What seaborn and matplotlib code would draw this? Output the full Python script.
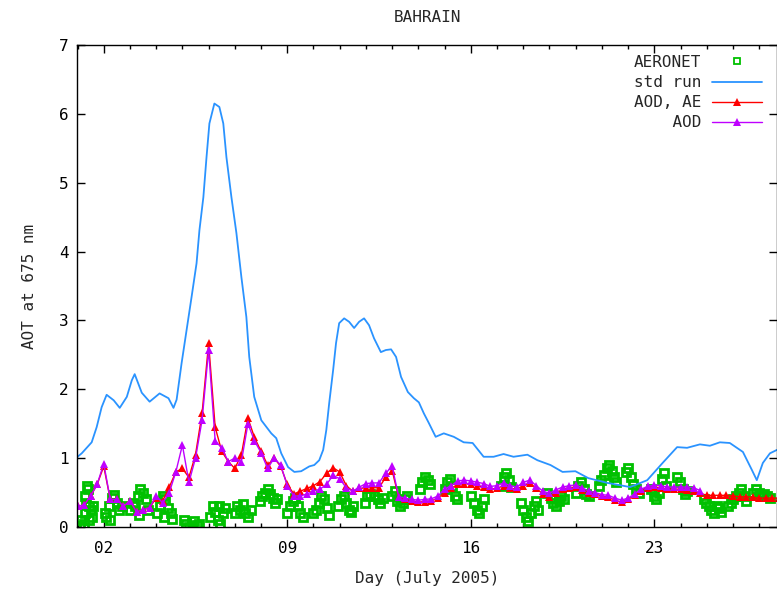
import numpy as np
import seaborn as sns
import matplotlib.pyplot as plt
from matplotlib.ticker import MultipleLocator, FixedLocator

# model runs: one value every 6 h, starting 1 July 00 UTC
model_start = 1.0
model_step = 0.25

aod_ae = [
    0.30, 0.32, 0.45, 0.62,
    0.88, 0.40, 0.40, 0.30,
    0.38, 0.22, 0.25, 0.28,
    0.42, 0.38, 0.58, 0.80,
    0.85, 0.72, 1.05, 1.65,
    2.67, 1.45, 1.10, 0.95,
    0.85, 1.05, 1.58, 1.30,
    1.10, 0.90, 1.00, 0.88,
    0.62, 0.48, 0.52, 0.56,
    0.60, 0.66, 0.78, 0.86,
    0.80, 0.60, 0.52, 0.56,
    0.57, 0.57, 0.57, 0.72,
    0.82, 0.43, 0.40, 0.38,
    0.36, 0.37, 0.38, 0.42,
    0.50, 0.56, 0.62, 0.63,
    0.62, 0.60, 0.58, 0.55,
    0.56, 0.60, 0.56, 0.55,
    0.60, 0.64, 0.56, 0.48,
    0.44, 0.50, 0.55, 0.57,
    0.58, 0.54, 0.50, 0.48,
    0.45, 0.43, 0.39, 0.36,
    0.40, 0.46, 0.53, 0.57,
    0.58, 0.57, 0.55, 0.55,
    0.55, 0.54, 0.52, 0.49,
    0.46, 0.46, 0.46, 0.46,
    0.45, 0.44, 0.44, 0.43,
    0.42, 0.42, 0.42, 0.42,
]

aod_only = [
    0.30, 0.32, 0.45, 0.62,
    0.92, 0.40, 0.40, 0.30,
    0.38, 0.22, 0.25, 0.28,
    0.45, 0.35, 0.50, 0.80,
    1.19, 0.65, 1.00, 1.55,
    2.57, 1.25, 1.15, 0.95,
    1.00, 0.95, 1.50, 1.25,
    1.08, 0.85, 1.00, 0.90,
    0.60, 0.45, 0.45, 0.48,
    0.52, 0.55, 0.62, 0.75,
    0.70, 0.57, 0.52, 0.58,
    0.63, 0.64, 0.64, 0.78,
    0.88, 0.44, 0.42, 0.40,
    0.39, 0.40, 0.41, 0.45,
    0.55, 0.60, 0.67, 0.68,
    0.67, 0.65, 0.63, 0.59,
    0.60, 0.64, 0.60, 0.58,
    0.65, 0.68, 0.60, 0.52,
    0.49, 0.54, 0.58, 0.60,
    0.61, 0.57, 0.52, 0.50,
    0.47, 0.46, 0.42, 0.39,
    0.42, 0.48, 0.55, 0.59,
    0.61, 0.60, 0.58, 0.58,
    0.58, 0.58, 0.57, 0.53,
]

std_day = [1.00, 1.16, 1.54, 1.73, 1.92, 2.11, 2.38, 2.61, 2.88, 3.07,
           3.18, 3.45, 3.75, 4.13, 4.47, 4.66, 4.78, 4.97, 5.16, 5.35,
           5.54, 5.65, 5.80, 5.92, 6.03, 6.22, 6.41, 6.56, 6.68, 6.87,
           7.06, 7.25, 7.44, 7.55, 7.74, 8.01, 8.39, 8.58, 8.77, 9.03,
           9.27, 9.53, 9.84, 10.03, 10.22, 10.37, 10.49, 10.60, 10.75, 10.86,
           10.98, 11.17, 11.36, 11.55, 11.74, 11.93, 12.12, 12.31, 12.57, 12.76,
           12.96, 13.15, 13.34, 13.60, 13.83, 14.02, 14.21, 14.40, 14.66, 14.97,
           15.35, 15.73, 16.07, 16.49, 16.87, 17.25, 17.63, 18.16, 18.54, 19.04,
           19.50, 19.99, 20.48, 21.21, 22.08, 22.73, 23.34, 23.87, 24.25, 24.74,
           25.12, 25.50, 25.88, 26.38, 26.72, 26.91, 27.14, 27.41, 27.68]
std_aot = [1.02, 1.07, 1.23, 1.45, 1.74, 1.92, 1.84, 1.73, 1.89, 2.13,
           2.22, 1.95, 1.82, 1.94, 1.87, 1.73, 1.85, 2.38, 2.86, 3.34,
           3.83, 4.31, 4.79, 5.37, 5.86, 6.15, 6.10, 5.86, 5.37, 4.79,
           4.27, 3.63, 3.05, 2.47, 1.89, 1.55, 1.36, 1.29, 1.07, 0.87,
           0.80, 0.81, 0.88, 0.90, 0.97, 1.12, 1.41, 1.80, 2.28, 2.67,
           2.96, 3.03, 2.98, 2.89, 2.98, 3.03, 2.93, 2.74, 2.54, 2.57,
           2.58, 2.47, 2.18, 1.96, 1.87, 1.81, 1.65, 1.51, 1.31, 1.36,
           1.31, 1.23, 1.22, 1.02, 1.02, 1.06, 1.02, 1.05, 0.97, 0.90,
           0.80, 0.81, 0.71, 0.64, 0.58, 0.68, 0.94, 1.16, 1.15, 1.20,
           1.18, 1.23, 1.22, 1.09, 0.83, 0.68, 0.93, 1.07, 1.12]

aeronet_day = [
    1.10, 1.15, 1.25, 1.28, 1.32, 1.36, 1.40, 1.42, 1.45, 1.50, 1.55, 1.60, 1.30,
    2.05, 2.10, 2.20, 2.25, 2.30, 2.40, 2.50, 2.60, 2.70,
    3.00, 3.10, 3.20, 3.30, 3.35, 3.40, 3.50, 3.60, 3.70,
    4.05, 4.15, 4.25, 4.30, 4.35, 4.45, 4.55, 4.60,
    5.05, 5.15, 5.25, 5.35, 5.45, 5.55, 5.65,
    6.05, 6.15, 6.25, 6.35, 6.40, 6.45, 6.55, 6.62,
    7.00, 7.10, 7.20, 7.30, 7.40, 7.50, 7.60,
    7.95, 8.05, 8.15, 8.25, 8.35, 8.45, 8.55, 8.62,
    9.00, 9.10, 9.20, 9.30, 9.40, 9.50, 9.60,
    10.00, 10.10, 10.20, 10.30, 10.40, 10.50, 10.60,
    10.95, 11.05, 11.15, 11.25, 11.35, 11.45, 11.50,
    11.95, 12.05, 12.15, 12.30, 12.45, 12.55, 12.65,
    12.98, 13.10, 13.20, 13.30, 13.40, 13.50, 13.58,
    14.05, 14.15, 14.25, 14.35, 14.45,
    15.00, 15.10, 15.20, 15.30, 15.40, 15.48,
    16.02, 16.12, 16.22, 16.32, 16.42, 16.50,
    17.15, 17.25, 17.35, 17.45, 17.55,
    17.92, 18.00, 18.10, 18.20, 18.30, 18.40, 18.50, 18.58,
    18.92, 19.05, 19.15, 19.25, 19.35, 19.45, 19.55,
    20.00, 20.10, 20.20, 20.30, 20.40, 20.50,
    20.88, 20.98, 21.08, 21.18, 21.28, 21.38, 21.48, 21.55,
    21.92, 22.00, 22.10, 22.20, 22.30, 22.40,
    22.88, 22.98, 23.08, 23.18, 23.28, 23.38, 23.45,
    23.88, 23.98, 24.08, 24.18, 24.25,
    24.88, 24.98, 25.08, 25.18, 25.28, 25.38, 25.48, 25.55,
    25.82, 25.92, 26.02, 26.12, 26.22, 26.32, 26.42, 26.50,
    26.78, 26.88, 26.98, 27.08, 27.18, 27.30, 27.40,
]
aeronet_aot = [
    0.02, 0.10, 0.05, 0.20, 0.35, 0.60, 0.55, 0.10, 0.30, 0.25, 0.15, 0.30, 0.45,
    0.20, 0.15, 0.30, 0.10, 0.42, 0.46, 0.35, 0.25, 0.30,
    0.25, 0.35, 0.30, 0.45, 0.18, 0.55, 0.50, 0.40, 0.25,
    0.20, 0.30, 0.45, 0.15, 0.40, 0.28, 0.20, 0.12,
    0.10, 0.05, 0.00, 0.02, 0.08, 0.03, 0.05,
    0.15, 0.30, 0.22, 0.10, 0.30, 0.05, 0.20, 0.28,
    0.20, 0.30, 0.25, 0.33, 0.20, 0.15, 0.25,
    0.38, 0.45, 0.50, 0.55, 0.48, 0.42, 0.35, 0.40,
    0.20, 0.30, 0.38, 0.42, 0.30, 0.20, 0.15,
    0.20, 0.25, 0.35, 0.45, 0.40, 0.28, 0.18,
    0.30, 0.40, 0.45, 0.35, 0.25, 0.22, 0.30,
    0.35, 0.45, 0.48, 0.45, 0.40, 0.35, 0.42,
    0.45, 0.52, 0.38, 0.30, 0.35, 0.40, 0.45,
    0.55, 0.65, 0.72, 0.68, 0.62,
    0.55, 0.65, 0.70, 0.60, 0.45, 0.40,
    0.45, 0.35, 0.25, 0.20, 0.30, 0.40,
    0.60, 0.72, 0.78, 0.68, 0.58,
    0.35, 0.25, 0.15, 0.08, 0.20, 0.30, 0.38, 0.25,
    0.50, 0.42, 0.35, 0.30, 0.38, 0.45, 0.40,
    0.50, 0.60, 0.65, 0.55, 0.48, 0.45,
    0.60, 0.68, 0.75, 0.85, 0.90, 0.82, 0.72, 0.65,
    0.80, 0.85, 0.72, 0.62, 0.55, 0.50,
    0.55, 0.45, 0.40, 0.50, 0.70, 0.78, 0.60,
    0.72, 0.65, 0.55, 0.48, 0.52,
    0.40, 0.35, 0.30, 0.25, 0.20, 0.30, 0.28, 0.22,
    0.30, 0.35, 0.40, 0.45, 0.50, 0.55, 0.45, 0.38,
    0.50, 0.55, 0.50, 0.45, 0.48, 0.45, 0.42,
]

xtick_days = [2, 9, 16, 23]
xtick_labels = ["02", "09", "16", "23"]

aod_ae_day = model_start + model_step * np.arange(len(aod_ae))
aod_day = model_start + model_step * np.arange(len(aod_only))

sns.set_style("ticks")
plt.rcParams['font.family'] = ['DejaVu Sans Mono']
plt.rcParams['font.size'] = 11.5

fig = plt.figure(figsize=(7.77, 5.93), dpi=100)
ax = fig.add_axes([77 / 777, 66 / 593, 700 / 777, 482 / 593])

sns.lineplot(x=aeronet_day, y=aeronet_aot, ax=ax, estimator=None, sort=False,
             linestyle='none', marker='s', markersize=6, markerfacecolor='none',
             markeredgecolor='#00c000', markeredgewidth=2.0, color='#00c000',
             label='AERONET')
sns.lineplot(x=std_day, y=std_aot, ax=ax, estimator=None, sort=False,
             color='#2a93ff', lw=1.3, label='std run')
sns.lineplot(x=aod_ae_day, y=aod_ae, ax=ax, estimator=None, sort=False,
             color='#ff0000', lw=1.0, marker='^', markersize=6, markeredgewidth=0,
             label='AOD, AE')
sns.lineplot(x=aod_day, y=aod_only, ax=ax, estimator=None, sort=False,
             color='#bf00ff', lw=1.0, marker='^', markersize=6, markeredgewidth=0,
             label='    AOD')

ax.set_xlim(0.98, 27.68)
ax.set_ylim(0, 7)
ax.xaxis.set_major_locator(FixedLocator(xtick_days))
ax.set_xticklabels(xtick_labels)
ax.xaxis.set_minor_locator(MultipleLocator(1))
ax.yaxis.set_major_locator(MultipleLocator(1))
ax.tick_params(which='both', direction='in', top=True, right=True, colors='black')
ax.tick_params(which='major', length=6, width=1)
ax.tick_params(which='minor', length=3, width=1)
ax.tick_params(axis='x', which='major', pad=10)
ax.tick_params(axis='y', which='major', pad=6)
for sp in ax.spines.values():
    sp.set_color('black')
    sp.set_linewidth(1.0)

ax.set_xlabel('Day (July 2005)')
ax.set_ylabel('AOT at 675 nm')
ax.xaxis.set_label_coords(0.5, -0.091)
ax.yaxis.set_label_coords(-0.057, 0.5)
ax.set_title('BAHRAIN', y=1.058, va='center', fontsize=11.5, pad=0)

leg = ax.legend(loc='upper right', bbox_to_anchor=(762 / 777, 1 - 55 / 593),
                bbox_transform=fig.transFigure, frameon=False, markerfirst=False,
                handlelength=3.1, handletextpad=0.7, labelspacing=0.32,
                borderpad=0, borderaxespad=0, fontsize=11.5)
leg.legend_handles[0].set_markersize(4.5)
leg.legend_handles[0].set_markeredgewidth(1.3)

plt.savefig('out.png', dpi=100)
